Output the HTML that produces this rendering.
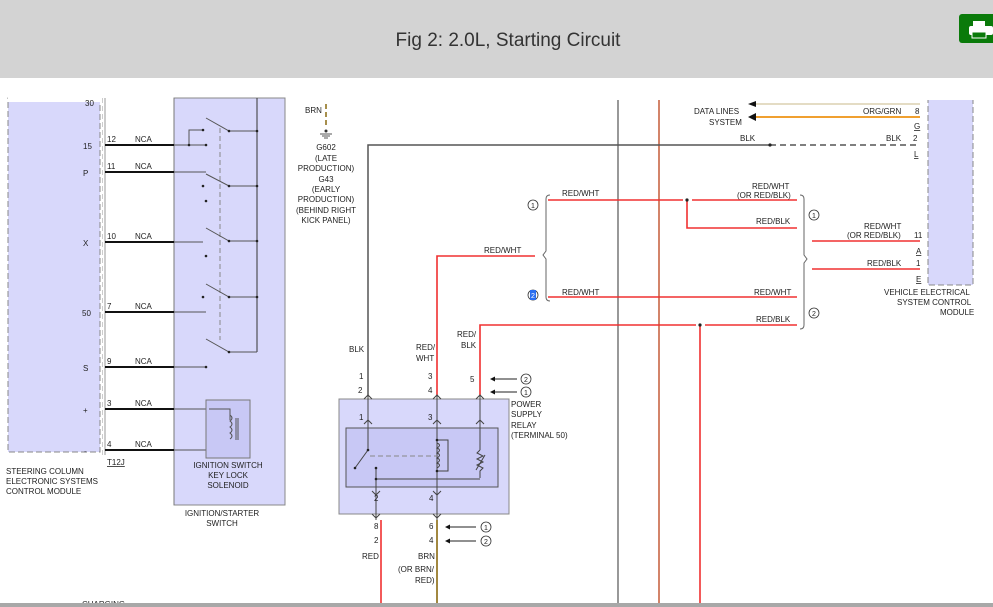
<!DOCTYPE html>
<html><head><meta charset="utf-8"><style>
html,body{margin:0;padding:0;width:993px;height:607px;overflow:hidden;background:#fff;font-family:"Liberation Sans",sans-serif}
.hdr{position:absolute;left:0;top:0;width:993px;height:78px;background:#d3d3d3}
.hdr h1{margin:0;position:absolute;left:0;width:1016px;top:30px;text-align:center;font-weight:normal;font-size:19px;color:#333}
.pr{position:absolute;left:959px;top:14px;width:40px;height:29px;background:#0a7a0a;border-radius:3px}
svg{position:absolute;left:0;top:0}
text{font-family:"Liberation Sans",sans-serif;font-size:8px;fill:#222}
</style></head><body>
<div class="hdr"><h1>Fig 2: 2.0L, Starting Circuit</h1><div class="pr"><svg width="40" height="29"><rect x="14" y="7" width="12" height="6" fill="#fff"/><rect x="10" y="12" width="24" height="9" rx="2" fill="#fff"/><rect x="13" y="18" width="14" height="6" fill="#0a7a0a" stroke="#fff"/></svg></div></div>
<svg width="993" height="607" viewBox="0 0 993 607">
<g transform="translate(0,0)">
<rect x="8" y="98" width="92" height="354" fill="#d8d8fb" stroke="#888" stroke-dasharray="6,3"/>
<rect x="8" y="96" width="94" height="6" fill="#fff"/>
<line x1="103" y1="98" x2="103" y2="455" stroke="#999" stroke-dasharray="5,3"/>
<rect x="174" y="98" width="111" height="407" fill="#d8d8fb" stroke="#888"/>
<rect x="103" y="98" width="71" height="360" fill="#fff"/>
<line x1="174" y1="98" x2="174" y2="505" stroke="#777"/>
<line x1="105" y1="98" x2="105" y2="455" stroke="#999"/>
<g stroke="#111" stroke-width="2">
<line x1="105" y1="145" x2="174" y2="145"/><line x1="105" y1="172" x2="174" y2="172"/><line x1="105" y1="242" x2="174" y2="242"/><line x1="105" y1="312" x2="174" y2="312"/><line x1="105" y1="367" x2="174" y2="367"/><line x1="105" y1="409" x2="174" y2="409"/><line x1="105" y1="450" x2="174" y2="450"/>
</g>
<g stroke="#555" stroke-width="1" fill="none">
<line x1="174" y1="145" x2="206" y2="145"/><polyline points="189,145 189,130 203,130"/>
<line x1="174" y1="172" x2="206" y2="172"/><line x1="174" y1="242" x2="203" y2="242"/><line x1="174" y1="312" x2="206" y2="312"/><line x1="174" y1="367" x2="206" y2="367"/>
<line x1="257" y1="98" x2="257" y2="352" stroke="#333"/>
<line x1="220" y1="128" x2="220" y2="340" stroke="#888" stroke-dasharray="5,3"/>
<polyline points="206,118 229,131 257,131"/><polyline points="206,174 229,186 257,186"/><polyline points="206,228 229,241 257,241"/><polyline points="206,284 229,297 257,297"/><polyline points="206,339 229,352 257,352"/>
<line x1="174" y1="409" x2="206" y2="409"/><line x1="174" y1="450" x2="206" y2="450"/>
</g>
<g fill="#222"><circle cx="203" cy="130" r="1.3"/><circle cx="206" cy="145" r="1.3"/><circle cx="189" cy="145" r="1.3"/><circle cx="203" cy="186" r="1.3"/><circle cx="206" cy="201" r="1.3"/><circle cx="206" cy="256" r="1.3"/><circle cx="203" cy="297" r="1.3"/><circle cx="206" cy="367" r="1.3"/>
<circle cx="229" cy="131" r="1.3"/><circle cx="229" cy="186" r="1.3"/><circle cx="229" cy="241" r="1.3"/><circle cx="229" cy="297" r="1.3"/><circle cx="229" cy="352" r="1.3"/>
<circle cx="257" cy="131" r="1.3"/><circle cx="257" cy="186" r="1.3"/><circle cx="257" cy="241" r="1.3"/><circle cx="257" cy="297" r="1.3"/></g>
<rect x="206" y="400" width="44" height="58" fill="#c8c8f5" stroke="#777"/>
<polyline points="209,409 230,409 230,420 M230,440 230,450 209,450" fill="none" stroke="#555"/>
<path d="M230,415 q4,3 0,6 q4,3 0,6 q4,3 0,6 q4,3 0,6" fill="none" stroke="#555"/>
<line x1="236" y1="418" x2="236" y2="440" stroke="#555"/><line x1="238" y1="418" x2="238" y2="440" stroke="#555"/>
<text x="85" y="106">30</text><text x="83" y="149">15</text><text x="83" y="176">P</text><text x="83" y="246">X</text><text x="82" y="316">50</text><text x="83" y="371">S</text><text x="83" y="413">+</text><text x="84" y="454">-</text>
<text x="107" y="142">12</text><text x="135" y="142">NCA</text><text x="107" y="169">11</text><text x="135" y="169">NCA</text><text x="107" y="239">10</text><text x="135" y="239">NCA</text><text x="107" y="309">7</text><text x="135" y="309">NCA</text><text x="107" y="364">9</text><text x="135" y="364">NCA</text><text x="107" y="406">3</text><text x="135" y="406">NCA</text><text x="107" y="447">4</text><text x="135" y="447">NCA</text>
<text x="107" y="465" text-decoration="underline">T12J</text>
<text x="6" y="474">STEERING COLUMN</text><text x="6" y="484">ELECTRONIC SYSTEMS</text><text x="6" y="494">CONTROL MODULE</text>
<g text-anchor="middle"><text x="228" y="468">IGNITION SWITCH</text><text x="228" y="478">KEY LOCK</text><text x="228" y="488">SOLENOID</text><text x="222" y="516">IGNITION/STARTER</text><text x="222" y="526">SWITCH</text>
<text x="326" y="150">G602</text><text x="326" y="161">(LATE</text><text x="326" y="171">PRODUCTION)</text><text x="326" y="182">G43</text><text x="326" y="192">(EARLY</text><text x="326" y="202">PRODUCTION)</text><text x="326" y="213">(BEHIND RIGHT</text><text x="326" y="223">KICK PANEL)</text></g>
<text x="305" y="113">BRN</text>
<line x1="326" y1="104" x2="326" y2="128" stroke="#8a6a10" stroke-width="1.5" stroke-dasharray="5,3"/>
<circle cx="326" cy="131" r="1.5" fill="#333"/><line x1="320" y1="134" x2="332" y2="134" stroke="#555"/><line x1="322" y1="136" x2="330" y2="136" stroke="#555"/><line x1="324" y1="138" x2="328" y2="138" stroke="#555"/>
<line x1="618" y1="100" x2="618" y2="603" stroke="#555" stroke-width="1.2"/>
<line x1="659" y1="100" x2="659" y2="603" stroke="#c0502a" stroke-width="1.4"/>
<polyline points="368,395 368,145 770,145" fill="none" stroke="#555" stroke-width="1.5"/>
<line x1="770" y1="145" x2="920" y2="145" stroke="#555" stroke-width="1.5" stroke-dasharray="6,4"/>
<circle cx="770" cy="145" r="1.6" fill="#222"/>
<text x="740" y="141">BLK</text><text x="886" y="141">BLK</text><text x="913" y="141">2</text><text x="914" y="157" text-decoration="underline">L</text>
<line x1="755" y1="104" x2="920" y2="104" stroke="#c8b888"/>
<line x1="755" y1="117" x2="920" y2="117" stroke="#f0a030" stroke-width="2"/>
<path d="M748,104 l8,-3 v6z M748,117 l8,-4 v8z" fill="#111"/>
<text x="694" y="114">DATA LINES</text><text x="709" y="125">SYSTEM</text>
<text x="863" y="114">ORG/GRN</text><text x="915" y="114">8</text><text x="914" y="129" text-decoration="underline">G</text>
<rect x="928" y="98" width="45" height="187" fill="#d8d8fb" stroke="#888" stroke-dasharray="6,3"/>
<rect x="926" y="96" width="50" height="4" fill="#fff"/>
<text x="884" y="295">VEHICLE ELECTRICAL</text><text x="897" y="305">SYSTEM CONTROL</text><text x="940" y="315">MODULE</text>
<g stroke="#f03030" stroke-width="1.6" fill="none">
<line x1="548" y1="200" x2="683" y2="200"/><line x1="692" y1="200" x2="797" y2="200"/>
<polyline points="687,200 687,228 797,228"/>
<line x1="812" y1="241" x2="920" y2="241"/><line x1="812" y1="269" x2="920" y2="269"/>
<line x1="548" y1="297" x2="797" y2="297"/>
<polyline points="480,395 480,325 696,325"/><line x1="705" y1="325" x2="797" y2="325"/>
<line x1="700" y1="325" x2="700" y2="603"/>
<polyline points="437,395 437,256 535,256"/>
<line x1="381" y1="520" x2="381" y2="603"/>
</g>
<line x1="437" y1="520" x2="437" y2="603" stroke="#8a6a10" stroke-width="1.6"/>
<circle cx="687" cy="200" r="1.6" fill="#222"/><circle cx="700" cy="325" r="1.6" fill="#222"/>
<text x="562" y="196">RED/WHT</text><text x="752" y="189">RED/WHT</text><text x="737" y="198">(OR RED/BLK)</text><text x="756" y="224">RED/BLK</text>
<text x="864" y="229">RED/WHT</text><text x="847" y="238">(OR RED/BLK)</text><text x="914" y="238">11</text><text x="916" y="254" text-decoration="underline">A</text>
<text x="867" y="266">RED/BLK</text><text x="916" y="266">1</text><text x="916" y="282" text-decoration="underline">E</text>
<text x="562" y="295">RED/WHT</text><text x="754" y="295">RED/WHT</text><text x="756" y="322">RED/BLK</text>
<text x="484" y="253">RED/WHT</text>
<path d="M550,195 q-4,0 -4,4 v52 l-3,4 l3,4 v38 q0,4 4,4" fill="none" stroke="#666"/>
<path d="M800,195 q4,0 4,4 v56 l3,4 l-3,4 v62 q0,4 -4,4" fill="none" stroke="#666"/>
<g fill="#fff" stroke="#333" stroke-width="0.8"><circle cx="533" cy="205" r="5"/><circle cx="814" cy="215" r="5"/><circle cx="814" cy="313" r="5"/><circle cx="533" cy="295" r="5"/></g>
<rect x="530" y="290" width="6" height="10" fill="#2a6ef0"/>
<g text-anchor="middle"><text x="533" y="208" style="font-size:7px">1</text><text x="814" y="218" style="font-size:7px">1</text><text x="814" y="316" style="font-size:7px">2</text><text x="533" y="298" style="font-size:7px;fill:#fff">2</text></g>
<text x="349" y="352">BLK</text><text x="416" y="350">RED/</text><text x="416" y="361">WHT</text><text x="457" y="337">RED/</text><text x="461" y="348">BLK</text>
<rect x="339" y="399" width="170" height="115" fill="#d8d8fb" stroke="#888"/>
<rect x="346" y="428" width="152" height="59" fill="#c8c8f5" stroke="#555"/>
<g stroke="#444" fill="none">
<line x1="368" y1="395" x2="368" y2="450"/><line x1="437" y1="395" x2="437" y2="520"/><line x1="480" y1="395" x2="480" y2="450"/>
<line x1="368" y1="450" x2="355" y2="468"/><line x1="376" y1="468" x2="376" y2="520"/><line x1="376" y1="479" x2="480" y2="479"/>
<line x1="370" y1="456" x2="437" y2="456" stroke="#888" stroke-dasharray="5,3"/>
<polyline points="437,440 448,440 448,471 437,471"/>
<path d="M437,443 q5,2 0,5 q5,2 0,5 q5,2 0,5 q5,2 0,5 q5,2 0,5" />
<path d="M480,450 l-3,3 l6,3 l-6,3 l6,3 l-6,3 l6,3 l-3,3 v7"/><line x1="476" y1="470" x2="485" y2="455"/>
</g>
<g fill="#222"><circle cx="368" cy="450" r="1.3"/><circle cx="355" cy="468" r="1.3"/><circle cx="376" cy="468" r="1.3"/><circle cx="437" cy="440" r="1.3"/><circle cx="437" cy="471" r="1.3"/><circle cx="376" cy="479" r="1.3"/></g>
<g stroke="#444" fill="none"><path d="M364,399 l4,-4 l4,4 M433,399 l4,-4 l4,4 M476,399 l4,-4 l4,4 M364,424 l4,-4 l4,4 M433,424 l4,-4 l4,4 M476,424 l4,-4 l4,4 M372,491 l4,4 l4,-4 M433,491 l4,4 l4,-4 M372,514 l4,4 l4,-4 M433,514 l4,4 l4,-4"/></g>
<text x="359" y="379">1</text><text x="358" y="393">2</text><text x="428" y="379">3</text><text x="428" y="393">4</text><text x="470" y="382">5</text>
<text x="359" y="420">1</text><text x="428" y="420">3</text><text x="374" y="501">2</text><text x="429" y="501">4</text>
<text x="374" y="529">8</text><text x="374" y="543">2</text><text x="429" y="529">6</text><text x="429" y="543">4</text>
<text x="362" y="559">RED</text><text x="418" y="559">BRN</text><text x="398" y="572">(OR BRN/</text><text x="415" y="583">RED)</text>
<text x="511" y="407">POWER</text><text x="511" y="417">SUPPLY</text><text x="511" y="428">RELAY</text><text x="511" y="438">(TERMINAL 50)</text>
<g stroke="#222"><line x1="493" y1="379" x2="517" y2="379"/><line x1="493" y1="392" x2="517" y2="392"/><line x1="448" y1="527" x2="476" y2="527"/><line x1="448" y1="541" x2="476" y2="541"/></g>
<path d="M490,379 l5,-2.5 v5z M490,392 l5,-2.5 v5z M445,527 l5,-2.5 v5z M445,541 l5,-2.5 v5z" fill="#111"/>
<g fill="#fff" stroke="#333" stroke-width="0.8"><circle cx="526" cy="379" r="5"/><circle cx="526" cy="392" r="5"/><circle cx="486" cy="527" r="5"/><circle cx="486" cy="541" r="5"/></g>
<g text-anchor="middle"><text x="526" y="382" style="font-size:7px">2</text><text x="526" y="395" style="font-size:7px">1</text><text x="486" y="530" style="font-size:7px">1</text><text x="486" y="544" style="font-size:7px">2</text></g>
<text x="82" y="607">CHARGING</text>
<rect x="0" y="603" width="993" height="4" fill="#a8a8a8"/>
</g>
</svg>
</body></html>
